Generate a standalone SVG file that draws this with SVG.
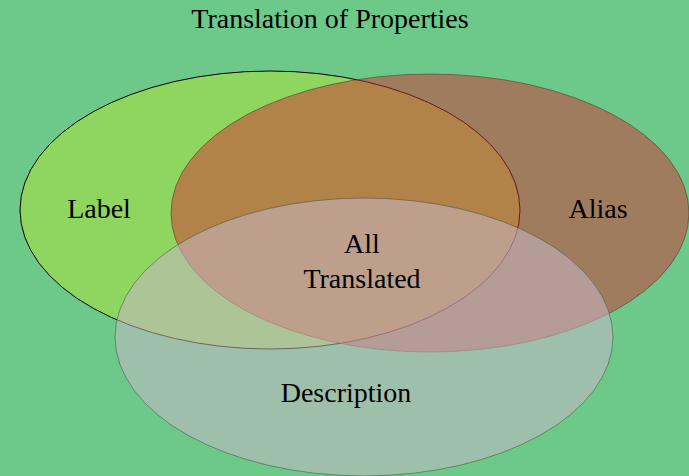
<svg xmlns="http://www.w3.org/2000/svg" width="689" height="476" viewBox="0 0 689 476">
<style>
text{font-family:"Liberation Serif","Times New Roman",serif;font-size:28px;fill:#000;text-anchor:middle}
</style>
<rect width="689" height="476" fill="#6dc98a"/>
<text x="330" y="28">Translation of Properties</text>
<g id="label"><ellipse cx="270" cy="210" rx="250" ry="139" fill="#8ed65f" stroke="#000" stroke-width="1"/></g>
<g id="alias"><ellipse cx="430" cy="213" rx="259" ry="139" fill="#d32f32" fill-opacity="0.5" stroke="#5a3a2a" stroke-opacity="0.6" stroke-width="1"/></g>
<g id="description"><ellipse cx="364" cy="337" rx="249" ry="139" fill="#c6b7c4" fill-opacity="0.55" stroke="#4a5a4a" stroke-opacity="0.6" stroke-width="1"/></g>
<g id="connectors"></g>
<g id="labels">
<text x="99" y="218">Label</text>
<text x="598" y="218">Alias</text>
<text x="362" y="253">All</text>
<text x="362" y="288">Translated</text>
<text x="346" y="402">Description</text>
</g>
</svg>
